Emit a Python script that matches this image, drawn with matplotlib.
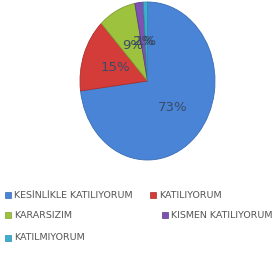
import matplotlib
matplotlib.use("Agg")
import matplotlib.pyplot as plt
from matplotlib.patches import Rectangle

# Survey answers (share of responses, %)
categories = ["KESİNLİKLE KATILIYORUM", "KATILIYORUM", "KARARSIZIM",
              "KISMEN KATILIYORUM", "KATILMIYORUM"]
shares = [73, 15, 9, 2, 1]
colors = ["#4a84d6", "#d43c3a", "#9cc23e", "#7d52b0", "#3eaed0"]
edges = ["#3a6cb4", "#a82e2c", "#7e9e30", "#5e3c88", "#2e8eaa"]

plt.rcParams['font.family'] = ['DejaVu Sans']

W, H = 280, 263
fig = plt.figure(figsize=(W / 100, H / 100), dpi=100)

# elliptical pie (tilted look of the original)
cx, cy, rx, ry = 147.5, 81, 67.5, 79
ax = fig.add_axes([(cx - rx) / W, (H - cy - ry) / H, 2 * rx / W, 2 * ry / H])
wedges, texts, autotexts = ax.pie(
    shares, colors=colors, startangle=90, counterclock=False,
    autopct='%.0f%%', pctdistance=0.5,
    wedgeprops=dict(linewidth=0.6),
    textprops=dict(color="#3b4a66", fontsize=9.5))
for w, ec in zip(wedges, edges):
    w.set_edgecolor(ec)
ax.set_aspect('auto')
ax.set_xlim(-1, 1)
ax.set_ylim(-1, 1)
ax.axis('off')

# legend laid out like the Excel original
legend_pos = [(5, 195), (150, 195), (5, 215), (162, 215), (5, 238)]
for (x, y), name, c, ec in zip(legend_pos, categories, colors, edges):
    fig.add_artist(Rectangle((x / W, (H - y - 3) / H), 6 / W, 6 / H,
                             transform=fig.transFigure, facecolor=c,
                             edgecolor=ec, linewidth=0.5))
    fig.text((x + 9) / W, (H - y) / H, name, fontsize=6.8,
             color="#555555", va='center', ha='left')

fig.savefig("out.png", dpi=100)
